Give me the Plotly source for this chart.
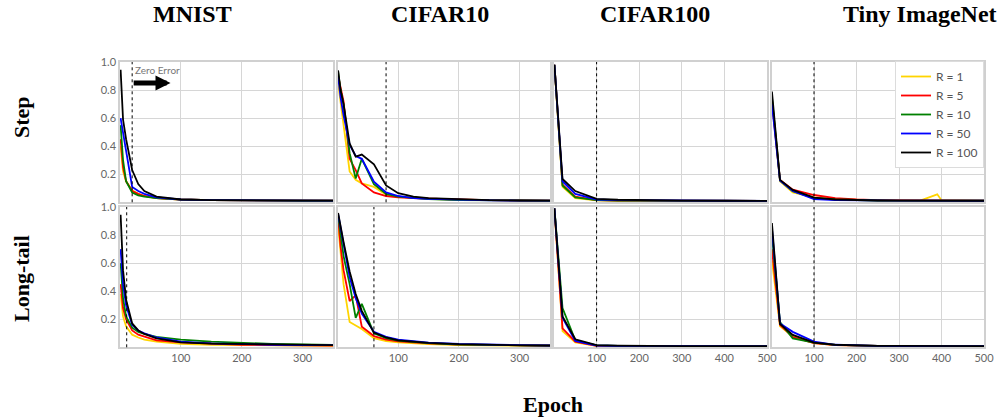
import plotly.graph_objects as go

W, H = 1006, 417

# ---------------- data ----------------
series_names = ["R = 1", "R = 5", "R = 10", "R = 50", "R = 100"]
series_colors = ["#FFD400", "#FF0000", "#008000", "#0000FF", "#000000"]

datasets = ["MNIST", "CIFAR10", "CIFAR100", "Tiny ImageNet"]
rows = ["Step", "Long-tail"]

epochs_mnist = [1, 5, 10, 20, 30, 40, 60, 100, 150, 200, 250, 300, 350]
epochs_cifar10 = [1, 5, 10, 20, 30, 40, 60, 80, 100, 125, 150, 200, 250, 300, 350]
epochs_cifar100 = [1, 20, 50, 100, 150, 200, 300, 400, 500]
epochs_tiny = [1, 20, 50, 100, 150, 200, 250, 300, 350, 390, 400, 450, 500]

# Step row
mnist_step = {
    "R = 1":   [0.40, 0.22, 0.15, 0.085, 0.06, 0.045, 0.03, 0.02, 0.015, 0.013, 0.012, 0.012, 0.012],
    "R = 5":   [0.45, 0.25, 0.15, 0.08, 0.06, 0.045, 0.03, 0.02, 0.015, 0.012, 0.011, 0.011, 0.011],
    "R = 10":  [0.55, 0.30, 0.15, 0.07, 0.05, 0.04, 0.03, 0.02, 0.015, 0.012, 0.011, 0.011, 0.011],
    "R = 50":  [0.60, 0.50, 0.35, 0.11, 0.08, 0.06, 0.035, 0.02, 0.015, 0.013, 0.012, 0.012, 0.012],
    "R = 100": [0.945, 0.59, 0.45, 0.23, 0.13, 0.08, 0.04, 0.02, 0.015, 0.013, 0.012, 0.012, 0.012],
}
cifar10_step = {
    "R = 1":   [0.85, 0.72, 0.55, 0.22, 0.16, 0.135, 0.11, 0.055, 0.04, 0.03, 0.024, 0.018, 0.014, 0.012, 0.011],
    "R = 5":   [0.90, 0.82, 0.72, 0.31, 0.23, 0.135, 0.07, 0.045, 0.035, 0.03, 0.025, 0.02, 0.015, 0.013, 0.012],
    "R = 10":  [0.93, 0.80, 0.70, 0.35, 0.17, 0.31, 0.13, 0.06, 0.04, 0.03, 0.022, 0.016, 0.013, 0.012, 0.011],
    "R = 50":  [0.90, 0.75, 0.62, 0.41, 0.33, 0.31, 0.147, 0.07, 0.045, 0.03, 0.025, 0.018, 0.014, 0.012, 0.012],
    "R = 100": [0.94, 0.80, 0.70, 0.42, 0.325, 0.34, 0.27, 0.12, 0.065, 0.04, 0.03, 0.02, 0.015, 0.013, 0.012],
}
cifar100_step = {
    "R = 1":   [0.98, 0.11, 0.03, 0.014, 0.012, 0.011, 0.010, 0.010, 0.010],
    "R = 5":   [0.98, 0.125, 0.04, 0.016, 0.013, 0.012, 0.011, 0.010, 0.010],
    "R = 10":  [0.98, 0.12, 0.035, 0.015, 0.013, 0.012, 0.011, 0.010, 0.010],
    "R = 50":  [0.98, 0.15, 0.06, 0.02, 0.016, 0.014, 0.012, 0.011, 0.010],
    "R = 100": [0.98, 0.166, 0.08, 0.024, 0.018, 0.015, 0.012, 0.011, 0.010],
}
tiny_step = {
    "R = 1":   [0.74, 0.15, 0.07, 0.035, 0.022, 0.016, 0.014, 0.013, 0.012, 0.057, 0.015, 0.013, 0.012],
    "R = 5":   [0.72, 0.16, 0.09, 0.052, 0.03, 0.02, 0.016, 0.014, 0.013, 0.012, 0.012, 0.011, 0.011],
    "R = 10":  [0.75, 0.155, 0.08, 0.03, 0.02, 0.015, 0.013, 0.012, 0.012, 0.012, 0.011, 0.011, 0.011],
    "R = 50":  [0.70, 0.155, 0.08, 0.023, 0.016, 0.013, 0.012, 0.012, 0.012, 0.011, 0.011, 0.011, 0.011],
    "R = 100": [0.79, 0.16, 0.088, 0.033, 0.02, 0.014, 0.013, 0.012, 0.012, 0.012, 0.012, 0.011, 0.011],
}

# Long-tail row
mnist_lt = {
    "R = 1":   [0.38, 0.22, 0.15, 0.09, 0.07, 0.055, 0.04, 0.025, 0.018, 0.015, 0.013, 0.012, 0.011],
    "R = 5":   [0.45, 0.28, 0.20, 0.12, 0.09, 0.075, 0.05, 0.035, 0.024, 0.018, 0.015, 0.013, 0.012],
    "R = 10":  [0.60, 0.35, 0.22, 0.14, 0.11, 0.095, 0.075, 0.055, 0.04, 0.03, 0.024, 0.02, 0.017],
    "R = 50":  [0.70, 0.45, 0.30, 0.16, 0.12, 0.10, 0.07, 0.04, 0.028, 0.022, 0.018, 0.016, 0.015],
    "R = 100": [0.945, 0.55, 0.34, 0.17, 0.12, 0.095, 0.064, 0.035, 0.026, 0.022, 0.018, 0.016, 0.015],
}
cifar10_lt = {
    "R = 1":   [0.87, 0.70, 0.45, 0.18, 0.155, 0.13, 0.065, 0.045, 0.035, 0.028, 0.023, 0.016, 0.013, 0.011, 0.010],
    "R = 5":   [0.93, 0.72, 0.55, 0.33, 0.37, 0.147, 0.08, 0.055, 0.042, 0.034, 0.028, 0.019, 0.015, 0.013, 0.012],
    "R = 10":  [0.94, 0.82, 0.65, 0.45, 0.21, 0.31, 0.10, 0.065, 0.048, 0.038, 0.03, 0.02, 0.016, 0.014, 0.012],
    "R = 50":  [0.95, 0.85, 0.72, 0.50, 0.35, 0.24, 0.11, 0.075, 0.055, 0.042, 0.034, 0.024, 0.018, 0.015, 0.013],
    "R = 100": [0.957, 0.86, 0.75, 0.54, 0.38, 0.26, 0.105, 0.07, 0.05, 0.04, 0.032, 0.022, 0.017, 0.014, 0.013],
}
cifar100_lt = {
    "R = 1":   [0.99, 0.115, 0.035, 0.010, 0.009, 0.008, 0.008, 0.008, 0.008],
    "R = 5":   [0.99, 0.135, 0.04, 0.010, 0.009, 0.008, 0.008, 0.008, 0.008],
    "R = 10":  [0.99, 0.28, 0.05, 0.014, 0.010, 0.009, 0.008, 0.008, 0.008],
    "R = 50":  [0.99, 0.21, 0.045, 0.013, 0.010, 0.009, 0.008, 0.008, 0.008],
    "R = 100": [0.99, 0.22, 0.057, 0.016, 0.012, 0.010, 0.009, 0.008, 0.008],
}
tiny_lt = {
    "R = 1":   [0.62, 0.15, 0.08, 0.03, 0.016, 0.011, 0.010, 0.009, 0.009, 0.009, 0.009, 0.009, 0.009],
    "R = 5":   [0.70, 0.16, 0.073, 0.03, 0.016, 0.011, 0.010, 0.009, 0.009, 0.009, 0.009, 0.009, 0.009],
    "R = 10":  [0.80, 0.18, 0.064, 0.033, 0.017, 0.012, 0.010, 0.009, 0.009, 0.009, 0.009, 0.009, 0.009],
    "R = 50":  [0.85, 0.17, 0.11, 0.04, 0.018, 0.012, 0.010, 0.009, 0.009, 0.009, 0.009, 0.009, 0.009],
    "R = 100": [0.886, 0.166, 0.088, 0.033, 0.018, 0.012, 0.010, 0.010, 0.009, 0.009, 0.009, 0.009, 0.009],
}

epochs = [epochs_mnist, epochs_cifar10, epochs_cifar100, epochs_tiny]
panel_data = [
    [mnist_step, cifar10_step, cifar100_step, tiny_step],
    [mnist_lt, cifar10_lt, cifar100_lt, tiny_lt],
]
zero_error_epoch = [[20, 80, 100, 100], [11, 60, 100, 100]]
x_max = [350, 350, 500, 500]
x_ticks = [[100, 200, 300], [100, 200, 300], [100, 200, 300, 400, 500], [100, 200, 300, 400, 500]]
y_ticks = [0.2, 0.4, 0.6, 0.8, 1.0]

# ---------------- layout geometry (pixels) ----------------
col_px = [(120, 333), (337.5, 550), (554, 767), (771.5, 984)]
row_px = [(62, 202.3), (207, 347.3)]

fig = go.Figure()
layout = dict(
    template="none",
    width=W, height=H, autosize=False,
    margin=dict(l=0, r=0, t=0, b=0, pad=0, autoexpand=False),
    paper_bgcolor="white", plot_bgcolor="white",
    showlegend=True,
    legend=dict(x=984 / W, xanchor="right", y=1 - 61 / H, yanchor="top",
                bgcolor="white", bordercolor="#dcdcdc", borderwidth=1,
                font=dict(family="Lato", size=12, color="#555555"),
                tracegroupgap=0, itemwidth=30),
)

tick_font = dict(family="Lato", size=11, color="#666666")
grid_col = "#d6d6d6"
shapes = []
annotations = []

k = 0
for r in range(2):
    for c in range(4):
        k += 1
        xa = "xaxis" if k == 1 else f"xaxis{k}"
        ya = "yaxis" if k == 1 else f"yaxis{k}"
        xr = "x" if k == 1 else f"x{k}"
        yr = "y" if k == 1 else f"y{k}"
        x0, x1 = col_px[c]
        y0, y1 = row_px[r]
        layout[xa] = dict(
            domain=[x0 / W, x1 / W], anchor=yr, range=[0, x_max[c]],
            tickvals=x_ticks[c], showticklabels=(r == 1), tickfont=tick_font,
            showgrid=True, gridcolor=grid_col, gridwidth=1, zeroline=False,
            showline=True, linecolor="#d0d0d0", linewidth=1.5, mirror=True,
            ticks="", ticklen=0, automargin=False,
        )
        layout[ya] = dict(
            domain=[1 - y1 / H, 1 - y0 / H], anchor=xr, range=[0, 1],
            tickvals=y_ticks, ticktext=[f"{v:.1f}" for v in y_ticks],
            showticklabels=(c == 0), tickfont=tick_font,
            showgrid=True, gridcolor=grid_col, gridwidth=1, zeroline=False,
            showline=True, linecolor="#d0d0d0", linewidth=1.5, mirror=True,
            ticks="", ticklen=0, automargin=False,
        )
        d = panel_data[r][c]
        for name, col in zip(series_names, series_colors):
            fig.add_trace(go.Scatter(
                x=epochs[c], y=d[name], mode="lines", name=name,
                line=dict(color=col, width=1.8), xaxis=xr, yaxis=yr,
                legendgroup=name, showlegend=(k == 1),
                hoverinfo="skip",
            ))
        shapes.append(dict(
            type="line", xref=xr, yref=f"{yr} domain",
            x0=zero_error_epoch[r][c], x1=zero_error_epoch[r][c], y0=0, y1=1,
            line=dict(color="black", width=1, dash="dot"),
        ))

# Zero Error annotation (top-left panel)
annotations.append(dict(
    x=zero_error_epoch[0][0] + 2, y=0.945, xref="x", yref="y",
    text="Zero Error", showarrow=False, xanchor="left", yanchor="middle",
    font=dict(family="Lato", size=10, color="#777777"),
))
annotations.append(dict(
    x=83, y=0.85, xref="x", yref="y", ax=zero_error_epoch[0][0], ay=0.85,
    axref="x", ayref="y", text="", showarrow=True,
    arrowhead=2, arrowsize=0.6, arrowwidth=5, arrowcolor="black",
))

title_font = dict(family="Liberation Serif", size=24, color="black")
row_font = dict(family="Liberation Serif", size=22, color="black")
title_x = [192, 440, 655, 920]
for name, tx in zip(datasets, title_x):
    annotations.append(dict(
        x=tx / W, y=1 - 14 / H, xref="paper", yref="paper", text=f"<b>{name}</b>",
        showarrow=False, xanchor="center", yanchor="middle", font=title_font,
    ))
row_y = [117, 279]
for name, ry in zip(rows, row_y):
    annotations.append(dict(
        x=21 / W, y=1 - ry / H, xref="paper", yref="paper", text=f"<b>{name}</b>",
        showarrow=False, xanchor="center", yanchor="middle", textangle=-90,
        font=row_font,
    ))
annotations.append(dict(
    x=553 / W, y=1 - 404 / H, xref="paper", yref="paper", text="<b>Epoch</b>",
    showarrow=False, xanchor="center", yanchor="middle", font=row_font,
))

layout["shapes"] = shapes
layout["annotations"] = annotations
fig.update_layout(**layout)
fig.write_html("out.html")
